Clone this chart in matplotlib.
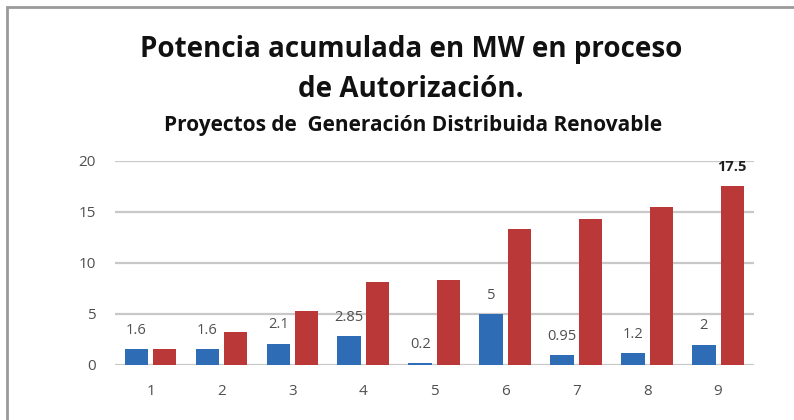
import numpy as np
import matplotlib
matplotlib.use("Agg")
import matplotlib.pyplot as plt
from matplotlib.patches import Rectangle

proyectos = ["1", "2", "3", "4", "5", "6", "7", "8", "9"]
potencia = [1.6, 1.6, 2.1, 2.85, 0.2, 5, 0.95, 1.2, 2]
acumulada = [1.6, 3.2, 5.3, 8.15, 8.35, 13.35, 14.3, 15.5, 17.5]
etiquetas = ["1.6", "1.6", "2.1", "2.85", "0.2", "5", "0.95", "1.2", "2"]

plt.rcParams['font.family'] = ['Open Sans', 'DejaVu Sans']

fig = plt.figure(figsize=(7.94, 4.2), dpi=100)
ax = fig.add_axes([0.145, 0.131, 0.804, 0.486])

x = np.arange(1, len(proyectos) + 1)
w = 0.33
ax.bar(x - 0.2, potencia, w, color='#2e6db6', zorder=3)
ax.bar(x + 0.2, acumulada, w, color='#bb3838', zorder=3)

for xi, v, t in zip(x, potencia, etiquetas):
    ax.annotate(t, (xi - 0.2, v), xytext=(0, 8), textcoords='offset points',
                ha='center', va='bottom', fontsize=10.5, color='#505050')
ax.annotate("17.5", (x[-1] + 0.2, acumulada[-1]), xytext=(0, 9),
            textcoords='offset points', ha='center', va='bottom',
            fontsize=10.5, fontweight='bold', color='#202020')

ax.set_xlim(0.5, 9.5)
ax.set_ylim(0, 20)
ax.set_yticks([0, 5, 10, 15, 20])
ax.set_xticks(x)
ax.set_xticklabels(proyectos)
ax.yaxis.grid(True, color='#c8c8c8', linewidth=1.6, zorder=0)
ax.set_axisbelow(True)
for s in ax.spines.values():
    s.set_visible(False)
ax.tick_params(length=0, labelsize=11, colors='#505050')
ax.tick_params(axis='y', pad=14)
ax.tick_params(axis='x', pad=14)

fig.text(0.518, 0.882, "Potencia acumulada en MW en proceso", ha='center',
         va='center', fontsize=20, fontweight='bold', color='#111111')
fig.text(0.518, 0.788, "de Autorización.", ha='center', va='center',
         fontsize=20, fontweight='bold', color='#111111')
fig.text(0.52, 0.702, "Proyectos de  Generación Distribuida Renovable",
         ha='center', va='center', fontsize=15, fontweight='bold',
         color='#111111')

fig.patches.append(Rectangle((7 / 794, -0.05), 1.2, 1 - 7 / 420 + 0.05,
                             transform=fig.transFigure, fill=False,
                             edgecolor='#9a9a9a', linewidth=2))

fig.savefig('out.png', dpi=100)
